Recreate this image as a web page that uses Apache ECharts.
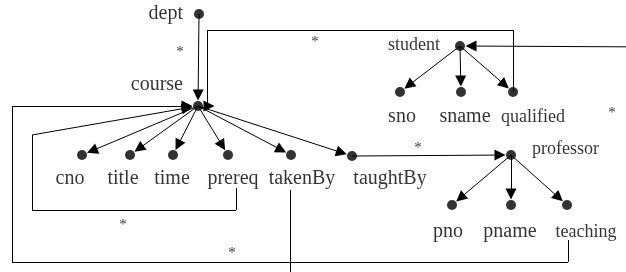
<!DOCTYPE html>
<html>
<head>
<meta charset="utf-8">
<script src="https://cdn.jsdelivr.net/npm/echarts@6/dist/echarts.min.js"></script>
<style>
  html, body { margin: 0; padding: 0; background: #fff; }
  #chart { width: 626px; height: 272px; }
</style>
</head>
<body>
<div id="chart"></div>
<script>
// nodes of the schema graph (x/y in diagram units)
const nodeNames = ['dept', 'course', 'cno', 'title', 'time', 'prereq', 'takenBy', 'taughtBy',
  'student', 'sno', 'sname', 'qualified', 'professor', 'pno', 'pname', 'teaching']
const nodeX = [199, 198, 82, 130, 173, 228, 291, 352, 460, 400, 461, 513, 511, 452, 511, 567]
const nodeY = [14, 106, 155, 155, 155, 155, 155, 156, 46, 92, 92, 92, 155, 205, 205, 205]

// plain tree edges (source -> target)
const treeEdges = [
  ['dept', 'course'],
  ['course', 'cno'], ['course', 'title'], ['course', 'time'], ['course', 'prereq'],
  ['course', 'takenBy'], ['course', 'taughtBy'],
  ['taughtBy', 'professor'],
  ['student', 'sno'], ['student', 'sname'], ['student', 'qualified'],
  ['professor', 'pno'], ['professor', 'pname'], ['professor', 'teaching']
]

// routed reference edges: start, bend points, then target node
const routedEdges = [
  { from: [513, 92], bends: [[513, 30], [207, 30], [207, 106]], to: 'course' },
  { from: [236, 188], bends: [[236, 210], [32, 210], [32, 135]], to: 'course' },
  { from: [568, 240], bends: [[568, 262], [12, 262], [12, 106]], to: 'course' },
  { from: [290, 190], bends: [[290, 300]], to: null },
  { from: [660, 47], bends: [], to: 'student' }
]

// "*" markers
const starX = [180, 315, 612, 418, 123, 232]
const starY = [52, 42, 113, 148, 225, 253]

const serif = 'Liberation Serif, Times New Roman, serif'

// label placement per node
const labelStyle = {
  dept: { position: 'left', distance: 11 },
  course: { position: 'left', distance: 10, offset: [0, -21] },
  cno: { offset: [-12, 24] },
  title: { offset: [-7, 24] },
  time: { offset: [-1, 24] },
  prereq: { offset: [5, 24] },
  takenBy: { offset: [11, 24] },
  taughtBy: { offset: [38, 23] },
  student: { position: 'left', distance: 15, offset: [0, -1], fontSize: 18 },
  sno: { offset: [2, 25] },
  sname: { offset: [4, 25] },
  qualified: { offset: [20, 25], fontSize: 18 },
  professor: { position: 'right', distance: 16, offset: [0, -6], fontSize: 18 },
  pno: { offset: [-4, 27] },
  pname: { offset: [-1, 27] },
  teaching: { offset: [19, 27], fontSize: 18 }
}

const pos = name => {
  const i = nodeNames.indexOf(name)
  return [nodeX[i], nodeY[i]]
}

// stop the arrow before the target dot
const trim = (a, b, d) => {
  const dx = b[0] - a[0], dy = b[1] - a[1]
  const len = Math.sqrt(dx * dx + dy * dy)
  return [b[0] - dx / len * d, b[1] - dy / len * d]
}

const GAP = 11
const arrowSegs = []
const plainSegs = []

treeEdges.forEach(([s, t]) => {
  const a = pos(s), b = pos(t)
  arrowSegs.push({ coords: [a, trim(a, b, GAP)] })
})
routedEdges.forEach(e => {
  const pts = [e.from].concat(e.bends)
  if (e.to) {
    const b = pos(e.to)
    let last = pts[pts.length - 1]
    if (last[0] === b[0] && last[1] === b[1]) {
      pts.pop()
      last = pts[pts.length - 1]
    }
    for (let i = 0; i < pts.length - 1; i++) plainSegs.push({ coords: [pts[i], pts[i + 1]] })
    arrowSegs.push({ coords: [last, trim(last, b, GAP)] })
  } else {
    for (let i = 0; i < pts.length - 1; i++) plainSegs.push({ coords: [pts[i], pts[i + 1]] })
  }
})

const chart = echarts.init(document.getElementById('chart'))

chart.setOption({
  animation: false,
  grid: { left: 0, right: 0, top: 0, bottom: 0 },
  xAxis: { type: 'value', min: 0, max: 626, show: false },
  yAxis: { type: 'value', min: 0, max: 272, inverse: true, show: false },
  series: [
    {
      type: 'lines',
      coordinateSystem: 'cartesian2d',
      clip: true,
      symbol: ['none', 'none'],
      lineStyle: { color: '#000', width: 1, opacity: 1 },
      data: plainSegs,
      z: 2
    },
    {
      type: 'lines',
      coordinateSystem: 'cartesian2d',
      clip: true,
      symbol: ['none', 'triangle'],
      symbolSize: [9, 11],
      lineStyle: { color: '#000', width: 1, opacity: 1 },
      data: arrowSegs,
      z: 2
    },
    {
      type: 'scatter',
      symbol: 'circle',
      symbolSize: 10,
      itemStyle: { color: '#000' },
      data: nodeNames.map((n, i) => {
        const s = labelStyle[n]
        return {
          value: [nodeX[i], nodeY[i]],
          label: {
            show: true,
            formatter: n,
            position: s.position || 'inside',
            distance: s.distance || 0,
            offset: s.offset || [0, 0],
            color: '#000',
            fontFamily: serif,
            fontSize: s.fontSize || 20
          }
        }
      }),
      z: 3
    },
    {
      type: 'scatter',
      symbol: 'circle',
      symbolSize: 2,
      itemStyle: { color: 'rgba(0,0,0,0)' },
      data: starX.map((x, i) => [x, starY[i]]),
      label: {
        show: true,
        position: 'inside',
        formatter: '*',
        color: '#000',
        fontFamily: serif,
        fontSize: 15
      },
      z: 3
    }
  ]
})
</script>
</body>
</html>
